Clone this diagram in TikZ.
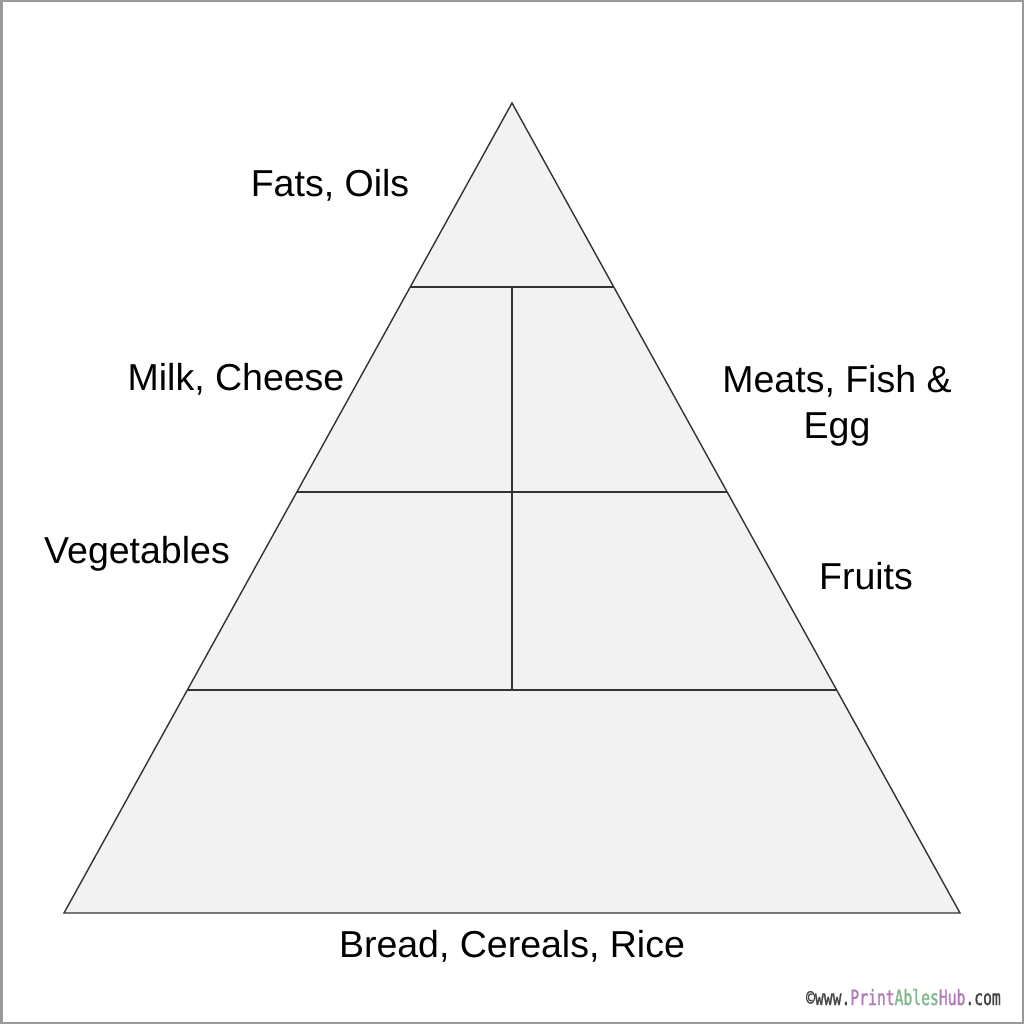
\documentclass[tikz,border=0pt]{standalone}
\usepackage{fontspec}
\setmainfont{Liberation Sans}
\newfontfamily\wmfont[FakeStretch=0.7,FakeBold=1.2]{DejaVu Sans Mono}
\definecolor{fillgray}{HTML}{F2F2F2}
\definecolor{linegray}{HTML}{333333}
\definecolor{framegray}{HTML}{9A9A9A}
\definecolor{wmpurple}{HTML}{B27AB8}
\definecolor{wmgreen}{HTML}{7DB88A}
\definecolor{wmgray}{HTML}{444444}
\begin{document}
\begin{tikzpicture}[x=1pt,y=-1pt,
  lab/.style={font=\fontsize{37.5}{46}\selectfont, anchor=base, inner sep=0pt, align=center},
  tier/.style={draw=linegray, line width=1.4pt},
]
\useasboundingbox (0,0) rectangle (1024,1024);
\fill[white] (0,0) rectangle (1024,1024);
\draw[framegray, line width=2.5pt] (1.25,1.25) rectangle (1022.75,1022.75);
% pyramid
\coordinate (apex) at (512,103);
\coordinate (bl) at (64,913);
\coordinate (br) at (960,913);
\coordinate (l1) at (410.2,287);
\coordinate (r1) at (613.8,287);
\coordinate (l2) at (296.9,492);
\coordinate (r2) at (727.1,492);
\coordinate (l3) at (187.4,690);
\coordinate (r3) at (836.6,690);
\coordinate (m1) at (512,287);
\coordinate (m3) at (512,690);
\filldraw[fill=fillgray, tier, line join=miter] (apex) -- (br) -- (bl) -- cycle;
\draw[tier] (l1) -- (r1);
\draw[tier] (l2) -- (r2);
\draw[tier] (l3) -- (r3);
\draw[tier] (m1) -- (m3);
% labels
\node[lab] (fats) at (330,197) {Fats, Oils};
\node[lab] (milk) at (236,390) {Milk, Cheese};
\node[lab] (veg) at (137,563) {Vegetables};
\node[lab] (meat) at (837,438) {Meats, Fish \&\\Egg};
\node[lab] (fruit) at (866,589) {Fruits};
\node[lab] (bread) at (512,957) {Bread, Cereals, Rice};
\node[anchor=base east, inner sep=0pt, font=\wmfont\fontsize{21}{21}\selectfont] (wm) at (1001,1005)
  {\textcolor{wmgray}{©www.}\textcolor{wmpurple}{Print}\textcolor{wmgreen}{Ables}\textcolor{wmpurple}{Hub}\textcolor{wmgray}{.com}};
\end{tikzpicture}
\end{document}
